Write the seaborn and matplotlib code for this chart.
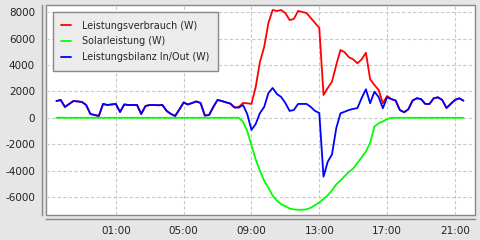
import numpy as np
import pandas as pd
import matplotlib
matplotlib.use("Agg")
import matplotlib.pyplot as plt
import seaborn as sns

# ---- data (15-minute samples, 21:30 -> 21:30 next day) ----
start_time = "2012-06-01 21:30"
n_points = 97

balance = [  # Leistungsbilanz In/Out (W)
    1270, 1350, 820, 1050, 1270, 1240, 1200, 970, 290, 210,
    140, 1050, 970, 1010, 1050, 440, 1010, 970, 970, 970,
    290, 890, 970, 970, 950, 970, 520, 290, 140, 630,
    1160, 1010, 1120, 1240, 1120, 170, 210, 820, 1350, 1270,
    1170, 1080, 780, 770, 970, 290, -920, -470, 360, 820,
    1880, 2260, 1800, 1580, 1120, 520, 590, 1050, 1050, 1050,
    820, 520, 360, -4460, -3330, -2770, -800, 340, 460, 590,
    670, 740, 1500, 2160, 1100, 1980, 1580, 720, 1550, 1420,
    1310, 590, 420, 640, 1300, 1480, 1420, 1050, 1050, 1480,
    1550, 1350, 740, 1050, 1350, 1480, 1300,
]

solar = [0] * 44 + [  # Solarleistung (W)
    -300, -1000, -2100, -3150, -4000, -4780, -5300, -5900, -6280, -6550,
    -6700, -6880, -6950, -6970, -6970, -6940, -6820, -6620, -6420, -6150,
    -5880, -5500, -5050, -4750, -4420, -4100, -3850, -3420, -3000, -2550,
    -1900, -670, -420, -280, -100,
] + [0] * 18

consumption_day = [  # Leistungsverbrauch (W), indices 43..78
    820, 1120, 1100, 1050, 2330, 4230, 5370, 7190, 8170, 8100,
    8170, 7940, 7410, 7490, 8100, 8020, 7940, 7560, 7190, 6810,
    1730, 2260, 2740, 4000, 5140, 4960, 4590, 4430, 4130, 4430,
    4930, 2920, 2490, 2110, 1100, 1650,
]
consumption = balance[:43] + consumption_day + balance[79:]

series_names = ["Leistungsverbrauch (W)", "Solarleistung (W)", "Leistungsbilanz In/Out (W)"]
series_colors = ["#ff0000", "#00ff00", "#0000ff"]
y_ticks = [-6000, -4000, -2000, 0, 2000, 4000, 6000, 8000]
x_tick_labels = ["01:00", "05:00", "09:00", "13:00", "17:00", "21:00"]

times = pd.date_range(start_time, periods=n_points, freq="15min")
df = pd.concat([
    pd.DataFrame({"Zeit": times, "Wert": consumption, "Serie": series_names[0]}),
    pd.DataFrame({"Zeit": times, "Wert": solar, "Serie": series_names[1]}),
    pd.DataFrame({"Zeit": times, "Wert": balance, "Serie": series_names[2]}),
], ignore_index=True)

sns.set_theme(style="white")
plt.rcParams["font.family"] = ["DejaVu Sans"]
plt.rcParams["axes.unicode_minus"] = False

fig = plt.figure(figsize=(4.8, 2.4), dpi=100, facecolor="#e6e6e6")
ax = fig.add_axes([46 / 480, 1 - 215 / 240, 429 / 480, 210 / 240])
ax.set_facecolor("white")

sns.lineplot(data=df, x="Zeit", y="Wert", hue="Serie", hue_order=series_names,
             palette=dict(zip(series_names, series_colors)), linewidth=1.3,
             sort=False, ax=ax, estimator=None)

# axes ranges
t0 = times[0]
ax.set_xlim(t0 - pd.Timedelta(minutes=37), t0 + pd.Timedelta(hours=24, minutes=41))
ax.set_ylim(-7370, 8550)

day2 = t0.normalize() + pd.Timedelta(days=1)
tick_times = [day2 + pd.Timedelta(hours=int(s[:2])) for s in x_tick_labels]
ax.set_xticks(tick_times)
ax.set_xticklabels(x_tick_labels)
ax.set_yticks(y_ticks)
ax.set_yticklabels([str(v) for v in y_ticks])
ax.set_xlabel("")
ax.set_ylabel("")

ax.grid(True, color="#c8c8c8", linestyle=(0, (3, 2)), linewidth=0.8)
ax.tick_params(axis="both", labelsize=7.5, colors="#555555", length=3, width=0.8,
               direction="out", pad=2, labelcolor="#222222")
ax.tick_params(axis="x", pad=2)

for s in ["top", "right"]:
    ax.spines[s].set_visible(False)
for s in ["left", "bottom"]:
    ax.spines[s].set_position(("outward", 3))
    ax.spines[s].set_color("#888888")
    ax.spines[s].set_linewidth(1.0)
ax.patch.set_edgecolor("#888888")
ax.patch.set_linewidth(1.0)

leg = ax.legend(loc="upper left", bbox_to_anchor=(0.016, 0.967), borderaxespad=0,
                fontsize=6.9, frameon=True, fancybox=False, framealpha=1,
                handlelength=1.0, handletextpad=1.1, labelspacing=0.62,
                borderpad=0.9)
leg.get_frame().set_facecolor("#ececec")
leg.get_frame().set_edgecolor("#888888")
leg.get_frame().set_linewidth(1.0)

fig.savefig("out.png", dpi=100, facecolor=fig.get_facecolor())
